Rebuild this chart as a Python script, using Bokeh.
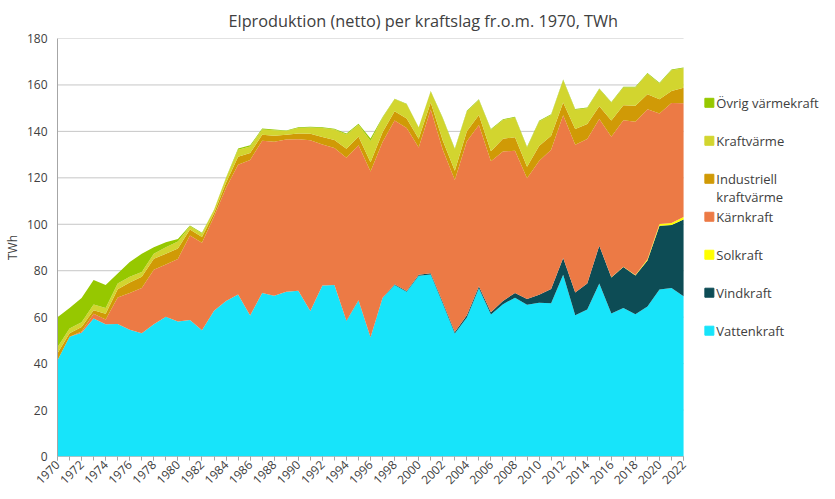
from math import pi
from bokeh.plotting import figure
from bokeh.models import ColumnDataSource, Range1d, FixedTicker
from bokeh.embed import file_html
from bokeh.resources import INLINE
from bokeh.core.properties import value

FONT = "Open Sans"

years = list(range(1970, 2023))

vattenkraft = [41.5, 51.6, 53.3, 59.4, 57.0, 57.1, 54.6, 53.1, 57.0, 60.2,
               58.1, 58.8, 54.4, 62.8, 67.0, 69.8, 60.7, 70.4, 69.2, 70.9,
               71.4, 62.7, 73.6, 73.8, 58.4, 67.2, 51.2, 68.2, 73.9, 70.9,
               77.8, 78.4, 65.9, 53.0, 59.9, 72.4, 61.1, 65.6, 68.4, 65.3,
               66.2, 66.0, 78.3, 60.8, 63.3, 74.5, 61.6, 64.0, 61.3, 64.6,
               71.9, 72.6, 69.0]

vindkraft = [0.0] * 20 + [0.0, 0.0, 0.0, 0.1, 0.1, 0.1, 0.1, 0.2, 0.3, 0.4,
                          0.45, 0.5, 0.6, 0.6, 0.9, 0.9, 1.0, 1.4, 2.0, 2.5,
                          3.5, 6.1, 7.2, 9.8, 11.2, 16.3, 15.5, 17.6, 16.6, 19.8,
                          27.5, 27.1, 33.1]

solkraft = [0.0] * 46 + [0.1, 0.1, 0.3, 0.5, 0.7, 0.8, 1.0]

karnkraft = [0.0, 0.0, 0.5, 2.1, 2.0, 11.4, 15.8, 19.5, 23.4, 22.5,
             27.0, 36.4, 37.6, 40.5, 48.7, 55.8, 67.0, 65.6, 66.3, 65.6,
             65.2, 73.5, 60.8, 58.9, 70.2, 66.7, 71.4, 67.0, 70.5, 70.2,
             54.8, 70.5, 65.6, 65.5, 75.0, 69.5, 65.0, 64.3, 61.3, 52.0,
             57.5, 60.0, 61.4, 63.6, 62.2, 54.5, 60.5, 63.1, 66.0, 64.6,
             47.6, 51.7, 49.0]

industriell = [3.0, 1.5, 2.0, 1.5, 2.5, 3.5, 4.5, 4.8, 4.8, 4.6,
               4.5, 2.5, 2.5, 1.5, 2.2, 3.5, 3.0, 2.5, 2.6, 2.0,
               2.5, 2.8, 3.2, 3.5, 3.8, 3.8, 4.0, 4.2, 4.0, 4.0,
               3.8, 3.0, 4.0, 4.0, 4.3, 4.3, 4.3, 5.5, 5.8, 5.0,
               6.5, 6.0, 5.5, 6.8, 6.5, 5.5, 7.0, 6.5, 6.8, 6.5,
               6.1, 5.2, 6.7]

kraftvarme = [2.5, 2.0, 2.0, 2.5, 2.5, 2.5, 2.5, 2.1, 2.1, 2.8,
              3.0, 1.5, 1.5, 1.3, 2.0, 3.0, 2.8, 2.3, 2.4, 1.7,
              2.4, 2.7, 3.9, 4.5, 6.2, 5.1, 9.2, 6.3, 5.2, 6.2,
              4.8, 4.8, 9.5, 9.2, 8.5, 6.4, 9.3, 8.1, 8.5, 8.3,
              10.6, 9.0, 9.6, 8.3, 6.8, 7.4, 7.7, 7.6, 7.9, 8.8,
              6.8, 8.9, 8.4]

ovrig = [13.0, 8.9, 10.4, 10.5, 9.9, 4.3, 6.4, 7.8, 2.8, 2.2,
         1.1, 0.3, 0.3, 0.2, 0.2, 0.5, 0.5, 0.4, 0.3, 0.2,
         0.3, 0.3, 0.3, 0.3, 0.4, 0.4, 1.0, 0.3, 0.2, 0.2,
         0.15, 0.2, 0.3, 0.3, 0.3, 0.3, 0.3, 0.3, 0.3, 0.3,
         0.3, 0.3, 0.3, 0.3, 0.3, 0.3, 0.3, 0.3, 0.3, 0.3,
         0.3, 0.3, 0.3]

series_names = ["Vattenkraft", "Vindkraft", "Solkraft", "Kärnkraft",
                "Industriell kraftvärme", "Kraftvärme", "Övrig värmekraft"]
series_values = [vattenkraft, vindkraft, solkraft, karnkraft,
                 industriell, kraftvarme, ovrig]
series_colors = ["#17e4fa", "#0d4c55", "#ffff00", "#ec7a45",
                 "#d09a06", "#d2d52f", "#96c800"]

# legend, top to bottom (label lines)
legend_lines = [["Övrig värmekraft"], ["Kraftvärme"], ["Industriell", "kraftvärme"],
                ["Kärnkraft"], ["Solkraft"], ["Vindkraft"], ["Vattenkraft"]]
legend_colors = ["#96c800", "#d2d52f", "#d09a06", "#ec7a45",
                 "#ffff00", "#0d4c55", "#17e4fa"]

title_text = "Elproduktion (netto) per kraftslag fr.o.m. 1970, TWh"
y_ticks = list(range(0, 181, 20))
x_label_ticks = list(range(1970, 2023, 2))
x_minor_ticks = list(range(1970, 2023))

# ---- layout (pixels) ----
FRAME_L, FRAME_T, FRAME_W, FRAME_H = 51, 32, 768, 416
PLOT_W_PX = 631                      # width of the 1970-2022 area
X0, X1 = years[0], years[-1]
px_per_year = PLOT_W_PX / (X1 - X0)
x_end = X0 + FRAME_W / px_per_year
px_per_unit = FRAME_H / 180.0


def lx(px):  # pixel offset from frame left -> data x
    return X0 + px / px_per_year


def ly(py):  # pixel offset from frame top -> data y
    return 180.0 - py / px_per_unit


data = {"year": years}
for n, v in zip(series_names, series_values):
    data[n] = v
source = ColumnDataSource(data)

p = figure(width=FRAME_L + FRAME_W, height=491,
           x_range=Range1d(X0, x_end), y_range=Range1d(0, 180),
           output_backend="svg", toolbar_location=None,
           min_border_left=FRAME_L, min_border_right=0, min_border_top=FRAME_T,
           min_border_bottom=35)
p.title.text = title_text
p.title.align = "left"
p.title.offset = 171
p.title.standoff = 14
p.title.text_font = FONT
p.title.text_font_size = "16.3px"
p.title.text_font_style = "normal"
p.title.text_color = "#404040"

# horizontal grid lines across the data area only
gsrc = ColumnDataSource(dict(y=y_ticks, x0=[X0] * len(y_ticks), x1=[X1] * len(y_ticks)))
p.segment(x0="x0", x1="x1", y0="y", y1="y", source=gsrc, line_color="#c6c6c6", line_width=1)

p.varea_stack(stackers=series_names, x="year", color=series_colors, source=source)

p.segment(x0=[X0], x1=[X1], y0=[0], y1=[0], line_color="#a6a6a6", line_width=1)

p.outline_line_color = None
p.grid.visible = False

p.yaxis.ticker = FixedTicker(ticks=y_ticks)
p.yaxis.axis_line_color = "#a6a6a6"
p.yaxis.major_tick_line_color = None
p.yaxis.minor_tick_line_color = None
p.yaxis.major_tick_out = 0
p.yaxis.major_label_standoff = 10
p.yaxis.major_label_text_font = FONT
p.yaxis.major_label_text_font_size = "12px"
p.yaxis.major_label_text_color = "#404040"
p.yaxis.axis_label = "TWh"
p.yaxis.axis_label_text_font = FONT
p.yaxis.axis_label_text_font_size = "12px"
p.yaxis.axis_label_text_font_style = "normal"
p.yaxis.axis_label_text_color = "#404040"
p.yaxis.axis_label_standoff = 3

p.xaxis.ticker = FixedTicker(ticks=x_label_ticks, minor_ticks=x_minor_ticks)
p.xaxis.axis_line_color = None
p.xaxis.major_tick_line_color = "#a6a6a6"
p.xaxis.minor_tick_line_color = "#a6a6a6"
p.xaxis.major_tick_in = 0
p.xaxis.major_tick_out = 4
p.xaxis.minor_tick_in = 0
p.xaxis.minor_tick_out = 4
p.xaxis.major_label_orientation = pi / 4
p.xaxis.major_label_standoff = 2
p.xaxis.major_label_text_font = FONT
p.xaxis.major_label_text_font_size = "12px"
p.xaxis.major_label_text_color = "#404040"

# legend inside the right part of the frame
first_row_py = 64      # pixel from frame top of first legend entry
row_gap = 37.8
line_gap = 18.5
sq_x, sq_y, sq_c = [], [], []
tx, ty, tt = [], [], []
for i, (lines, c) in enumerate(zip(legend_lines, legend_colors)):
    py = first_row_py + i * row_gap
    sq_x.append(lx(657))
    sq_y.append(ly(py))
    sq_c.append(c)
    for j, t in enumerate(lines):
        tx.append(lx(664))
        ty.append(ly(py + j * line_gap))
        tt.append(t)
p.scatter(x=sq_x, y=sq_y, marker="square", size=9, color=sq_c)
p.text(x=tx, y=ty, text=tt, text_font=value(FONT), text_font_size="13px",
       text_color="#404040", text_baseline="middle", text_align="left")

open("out.html", "w").write(file_html(p, INLINE))
